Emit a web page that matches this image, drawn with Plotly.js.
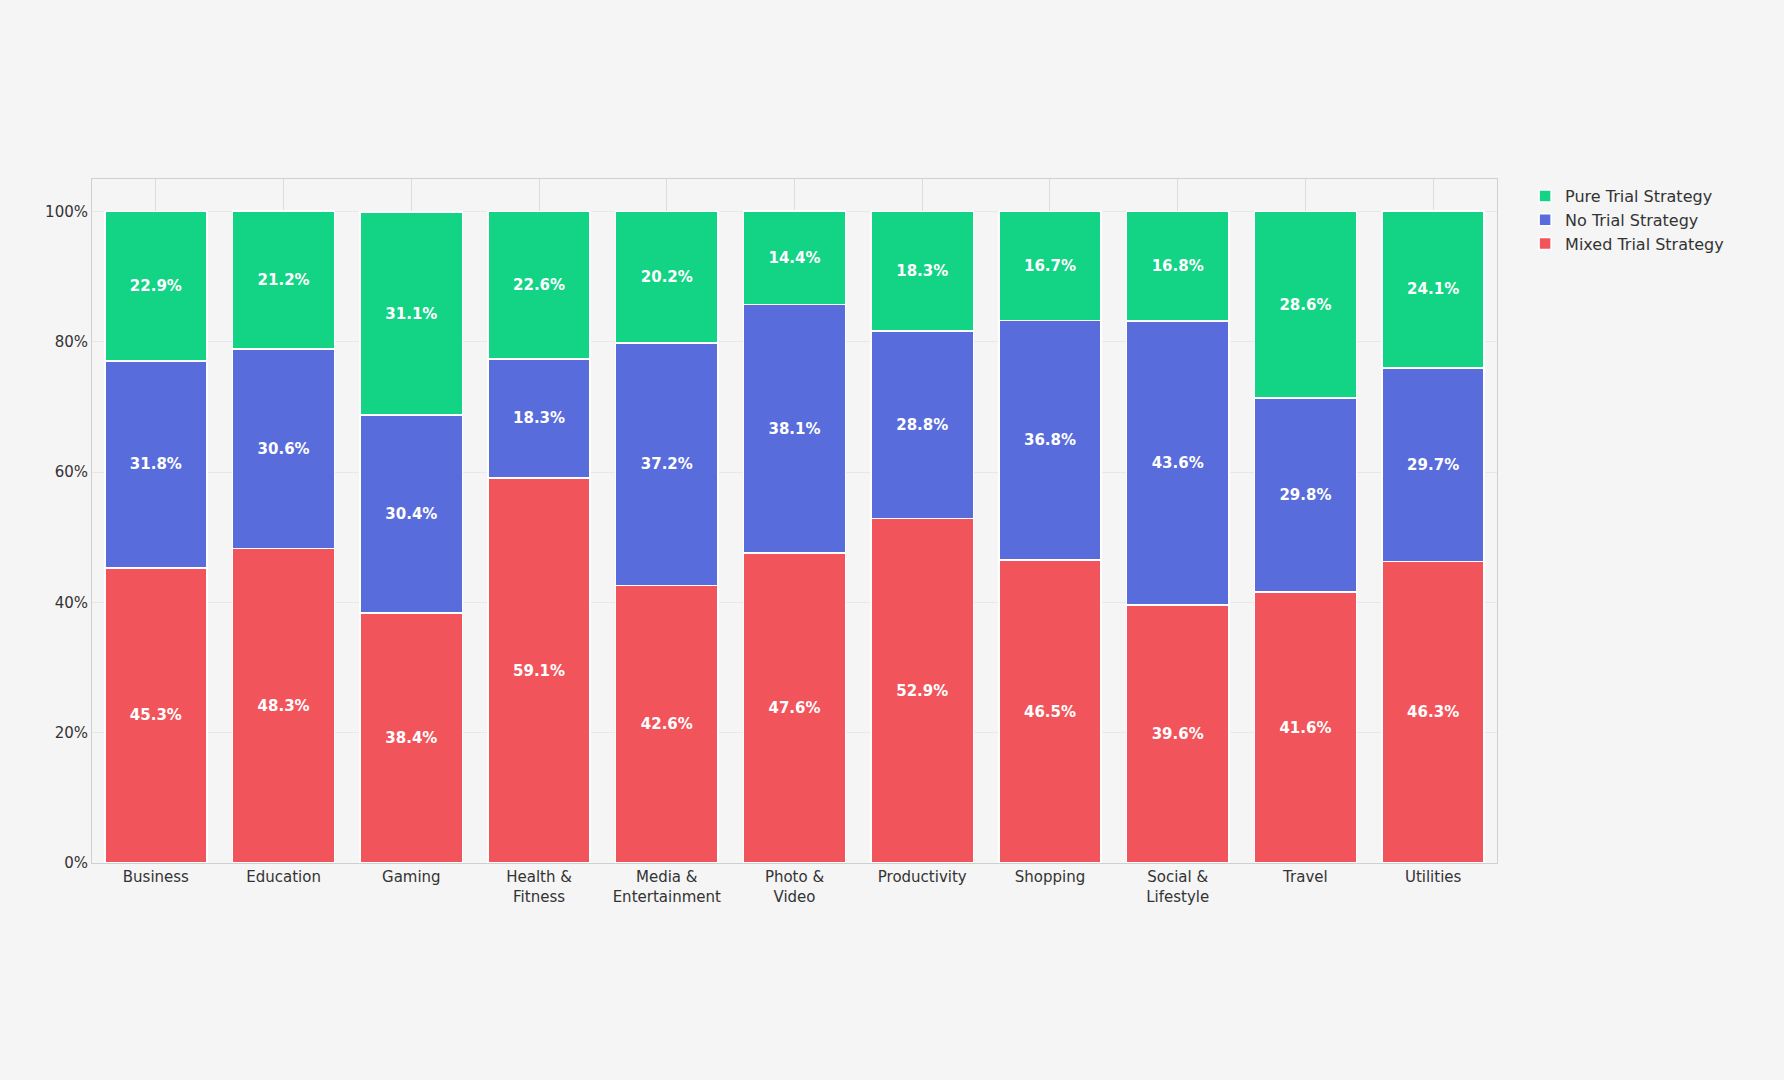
<!DOCTYPE html>
<html>
<head>
<meta charset="utf-8">
<script src="https://cdn.plot.ly/plotly-3.0.1.min.js"></script>
<style>body{margin:0;background:#f5f5f5;}</style>
</head>
<body>
<div id="chart" style="width:1784px;height:1080px;"></div>
<script>
const categorias = ["Business", "Education", "Gaming", "Health &<br>Fitness", "Media &<br>Entertainment",
  "Photo &<br>Video", "Productivity", "Shopping", "Social &<br>Lifestyle", "Travel", "Utilities"];
const mixta = [45.3, 48.3, 38.4, 59.1, 42.6, 47.6, 52.9, 46.5, 39.6, 41.6, 46.3];
const sinPrueba = [31.8, 30.6, 30.4, 18.3, 37.2, 38.1, 28.8, 36.8, 43.6, 29.8, 29.7];
const pura = [22.9, 21.2, 31.1, 22.6, 20.2, 14.4, 18.3, 16.7, 16.8, 28.6, 24.1];

function serie(nombre, valores, color) {
  return {
    type: "bar", name: nombre, x: categorias, y: valores,
    text: valores.map(v => v.toFixed(1) + "%"),
    textposition: "inside", insidetextanchor: "middle",
    textfont: { color: "white", size: 15, family: "DejaVu Sans", weight: "bold" },
    marker: { color: color, line: { color: "white", width: 1.5 } },
    hoverinfo: "skip"
  };
}

const data = [
  serie("Mixed Trial Strategy", mixta, "#f2545b"),
  serie("No Trial Strategy", sinPrueba, "#586cdc"),
  serie("Pure Trial Strategy", pura, "#13d385")
];

const layout = {
  barmode: "stack", bargap: 0.2,
  paper_bgcolor: "#f5f5f5", plot_bgcolor: "#f5f5f5",
  font: { family: "DejaVu Sans", size: 15, color: "#333" },
  margin: { l: 92, r: 287, t: 179, b: 217 },
  xaxis: { showgrid: true, gridcolor: "#dddddd", showline: true, linecolor: "#d0d0d0", mirror: true, ticks: "" },
  yaxis: { range: [0, 105], tickvals: [0, 20, 40, 60, 80, 100], ticktext: ["0%", "20%", "40%", "60%", "80%", "100%"],
    gridcolor: "#e8e8e8", showline: true, linecolor: "#d0d0d0", mirror: true, zeroline: false },
  legend: { x: 1.02, y: 1, xanchor: "left", yanchor: "top", font: { size: 16 }, bgcolor: "rgba(0,0,0,0)" },
  showlegend: true
};

Plotly.newPlot("chart", data, layout, { displayModeBar: false });
</script>
</body>
</html>
